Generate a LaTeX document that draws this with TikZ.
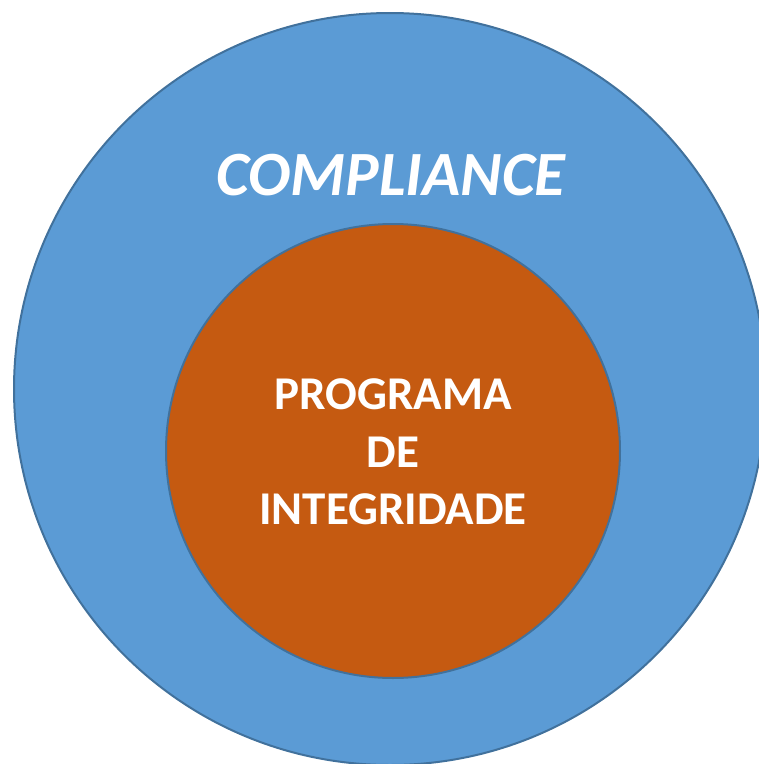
\documentclass[tikz,border=0pt]{standalone}
\usepackage{fontspec}
\setmainfont{Carlito}
\usetikzlibrary{positioning}
\definecolor{outerblue}{HTML}{5B9BD5}
\definecolor{innerorange}{HTML}{C55A11}
\definecolor{rimblue}{HTML}{41719C}
\begin{document}
\begin{tikzpicture}[x=1pt,y=-1pt,line cap=round,line join=round]
\tikzset{
  ring/.style={circle,draw=rimblue,line width=2pt,inner sep=0pt},
  whitetext/.style={text=white,inner sep=0pt,font=\bfseries}
}
\useasboundingbox (0,0) rectangle (759,764);
\clip (0,0) rectangle (759,764);
% outer and inner circles
\node [ring,fill=outerblue,minimum size=752pt] (compliance) at (390,389) {};
\node [ring,fill=innerorange,minimum size=454pt] (programa) at (393,451) {};
% labels
\node [whitetext,anchor=base,font=\fontsize{63}{66}\selectfont\bfseries\itshape] (complabel) at (391,195) {COMPLIANCE};
\node [whitetext,align=center,font=\fontsize{47}{57.5}\selectfont\bfseries] (proglabel) at (393,452) {PROGRAMA\\DE\\INTEGRIDADE};
\end{tikzpicture}
\end{document}
